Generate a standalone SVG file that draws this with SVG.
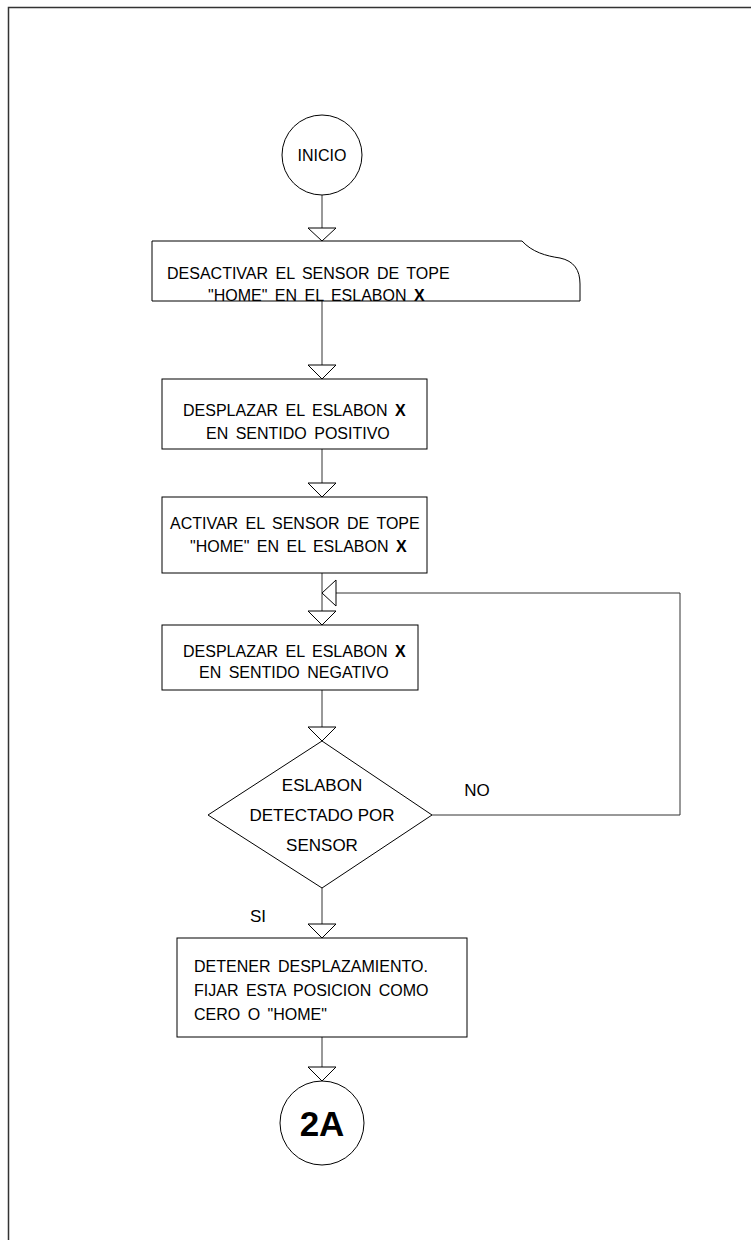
<svg xmlns="http://www.w3.org/2000/svg" width="751" height="1240" viewBox="0 0 751 1240">
<style>
.s{fill:#fff;stroke:#000;stroke-width:1}
.l{fill:none;stroke:#333;stroke-width:1}
.a{fill:#fff;stroke:#000;stroke-width:1}
text{font-family:"Liberation Sans",Arial,sans-serif;font-size:16px;fill:#000;word-spacing:3px}
.d{font-size:17px;word-spacing:0}
.b{font-weight:bold}
</style>
<rect width="751" height="1240" fill="#fff"/>
<g id="frame"><path d="M8.5,1240 V7.5 H751" fill="none" stroke="#333" stroke-width="1.5"/></g>
<g id="connectors">
<path class="l" d="M322,195 V241"/>
<path class="l" d="M322,301 V379"/>
<path class="l" d="M322,449 V497"/>
<path class="l" d="M322,573 V625"/>
<path class="l" d="M322,690 V741"/>
<path class="l" d="M432,815 H680 V593 H336"/>
<path class="l" d="M322,888 V938"/>
<path class="l" d="M322,1037 V1081"/>
<polygon class="a" points="308,228 336,228 322,241"/>
<polygon class="a" points="308,365 336,365 322,379"/>
<polygon class="a" points="308,483 336,483 322,497"/>
<polygon class="a" points="308,611 336,611 322,625"/>
<polygon class="a" points="336,580 336,606 322,593"/>
<polygon class="a" points="308,727 336,727 322,741"/>
<polygon class="a" points="308,924 336,924 322,938"/>
<polygon class="a" points="308,1067 336,1067 322,1081"/>
</g>
<g id="inicio"><circle class="s" cx="322" cy="155" r="40"/><text x="322" y="161" text-anchor="middle">INICIO</text></g>
<g id="desactivar">
<path class="s" d="M152,241 H522 C532,252 546,256 560,258 C574,261 580,270 580,284 V301 H152 Z"/>
<text x="167" y="279">DESACTIVAR EL SENSOR DE TOPE</text>
<text x="208" y="301">"HOME" EN EL ESLABON <tspan class="b">X</tspan></text>
</g>
<g id="desplazar-pos">
<rect class="s" x="162" y="379" width="265" height="70"/>
<text x="183" y="416">DESPLAZAR EL ESLABON <tspan class="b">X</tspan></text>
<text x="206" y="439">EN SENTIDO POSITIVO</text>
</g>
<g id="activar">
<rect class="s" x="162" y="497" width="265" height="76"/>
<text x="170" y="529">ACTIVAR EL SENSOR DE TOPE</text>
<text x="190" y="552">"HOME" EN EL ESLABON <tspan class="b">X</tspan></text>
</g>
<g id="desplazar-neg">
<rect class="s" x="162" y="625" width="256" height="65"/>
<text x="183" y="657">DESPLAZAR EL ESLABON <tspan class="b">X</tspan></text>
<text x="199" y="678">EN SENTIDO NEGATIVO</text>
</g>
<g id="decision">
<polygon class="s" points="322,741 432,815 322,888 208,815"/>
<text class="d" x="322" y="791" text-anchor="middle">ESLABON</text>
<text class="d" x="322" y="821" text-anchor="middle">DETECTADO POR</text>
<text class="d" x="322" y="851" text-anchor="middle">SENSOR</text>
</g>
<text class="d" x="477" y="796" text-anchor="middle">NO</text>
<text class="d" x="258" y="922" text-anchor="middle">SI</text>
<g id="detener">
<rect class="s" x="177" y="938" width="290" height="99"/>
<text x="194" y="972">DETENER  DESPLAZAMIENTO.</text>
<text x="194" y="996">FIJAR ESTA POSICION COMO</text>
<text x="194" y="1020">CERO O "HOME"</text>
</g>
<g id="c2a"><circle class="s" cx="322" cy="1123" r="42"/><text x="322" y="1136" text-anchor="middle" class="b" style="font-size:35px;word-spacing:0">2A</text></g>
</svg>
